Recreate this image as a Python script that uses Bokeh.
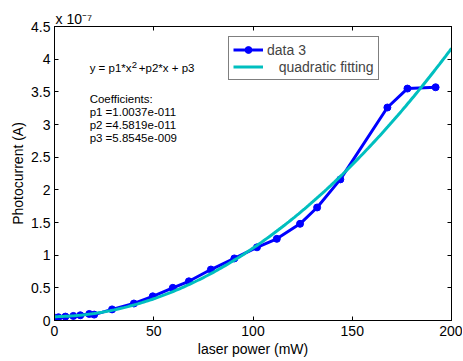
import numpy as np
from bokeh.plotting import figure
from bokeh.models import Range1d, LinearAxis, FixedTicker, Label, Legend, LegendItem, Title
from bokeh.embed import file_html
from bokeh.resources import INLINE

# measured data (laser power in mW, photocurrent in 1e-7 A)
power = [0.5, 2, 5.5, 9.5, 13, 17.5, 20, 29, 40, 49.5, 59.6, 67.7, 78.8, 90.6,
         102, 112, 123.7, 132.3, 144, 167.7, 177.8, 192]
current = [0.04, 0.05, 0.06, 0.07, 0.08, 0.10, 0.09, 0.17, 0.26, 0.37, 0.50, 0.60,
           0.78, 0.95, 1.12, 1.25, 1.48, 1.73, 2.16, 3.26, 3.55, 3.57]

# quadratic fit coefficients (A)
p1 = 1.0037e-11
p2 = 4.5819e-11
p3 = 5.8545e-9
fit_x = np.linspace(0, 200, 201)
fit_y = (p1 * fit_x**2 + p2 * fit_x + p3) / 1e-7

x_ticks = [0, 50, 100, 150, 200]
y_ticks = [0, 0.5, 1, 1.5, 2, 2.5, 3, 3.5, 4, 4.5]

FONT = "Liberation Sans"

p = figure(width=462, height=360, x_range=Range1d(0, 200), y_range=Range1d(0, 4.5),
           output_backend="svg", toolbar_location=None,
           min_border_left=54, min_border_right=11, min_border_top=26, min_border_bottom=40)
p.xgrid.visible = False
p.ygrid.visible = False
p.outline_line_color = "black"
p.outline_line_width = 1

for ax in (p.xaxis[0], p.yaxis[0]):
    ax.major_tick_in = 4
    ax.major_tick_out = 0
    ax.minor_tick_in = 0
    ax.minor_tick_out = 0
    ax.axis_line_color = "black"
    ax.major_tick_line_color = "black"
    ax.major_label_text_font = FONT
    ax.major_label_text_font_size = "14px"
    ax.major_label_text_color = "black"
    ax.axis_label_text_font = FONT
    ax.axis_label_text_font_size = "14px"
    ax.axis_label_text_font_style = "normal"
    ax.axis_label_text_color = "black"

p.xaxis[0].ticker = FixedTicker(ticks=x_ticks)
p.yaxis[0].ticker = FixedTicker(ticks=y_ticks)
p.xaxis[0].axis_label = "laser power (mW)"
p.yaxis[0].axis_label = "Photocurrent (A)"
p.xaxis[0].major_label_standoff = 5
p.yaxis[0].major_label_standoff = 4
p.xaxis[0].axis_label_standoff = 2
p.yaxis[0].axis_label_standoff = 2

top = LinearAxis(ticker=FixedTicker(ticks=x_ticks),
                 major_label_overrides={t: "" for t in x_ticks},
                 major_tick_in=4, major_tick_out=0, minor_tick_in=0, minor_tick_out=0,
                 major_label_standoff=0, axis_line_color="black")
right = LinearAxis(ticker=FixedTicker(ticks=y_ticks),
                   major_label_overrides={t: "" for t in y_ticks},
                   major_tick_in=4, major_tick_out=0, minor_tick_in=0, minor_tick_out=0,
                   major_label_standoff=0, axis_line_color="black")
p.add_layout(top, "above")
p.add_layout(right, "right")

# exponent of the y axis
p.add_layout(Title(text="x 10\u207b\u2077", align="left", text_font=FONT,
                   text_font_size="14px", text_font_style="normal", text_color="black",
                   standoff=0, offset=1), "above")

r_data = p.line(power, current, line_color="#0000FF", line_width=3)
r_pts = p.scatter(power, current, size=7, fill_color="#0000FF", line_color="#0000FF")
r_fit = p.line(fit_x, fit_y, line_color="#00BFBF", line_width=3)

legend = Legend(items=[LegendItem(label="data 3", renderers=[r_data, r_pts]),
                       LegendItem(label="\u00a0\u00a0\u00a0quadratic fitting", renderers=[r_fit])],
                location=(174, 240), border_line_color="black", border_line_width=1,
                label_text_font=FONT, label_text_font_size="14px", glyph_width=30,
                glyph_height=17, label_height=17, spacing=0, padding=4, margin=0,
                label_standoff=4, background_fill_alpha=1)
p.add_layout(legend)

# fit annotation
ann_font = "11.5px"
p.add_layout(Label(x=17.7, y=3.87, y_offset=-6, text="y = p1*x", text_font=FONT,
                   text_font_size=ann_font, text_color="black"))
p.add_layout(Label(x=17.7, y=3.87, x_offset=42, y_offset=0, text="2", text_font=FONT,
                   text_font_size="9.5px", text_color="black"))
p.add_layout(Label(x=17.7, y=3.87, x_offset=46, y_offset=-6, text="\u00a0+p2*x + p3", text_font=FONT,
                   text_font_size=ann_font, text_color="black"))
lines = ["Coefficients:", "p1 =1.0037e-011", "p2 =4.5819e-011", "p3 =5.8545e-009"]
for i, t in enumerate(lines):
    p.add_layout(Label(x=17.7, y=3.87, y_offset=-37 - 13 * i, text=t, text_font=FONT,
                       text_font_size=ann_font, text_color="black"))

open("out.html", "w").write(file_html(p, INLINE))
